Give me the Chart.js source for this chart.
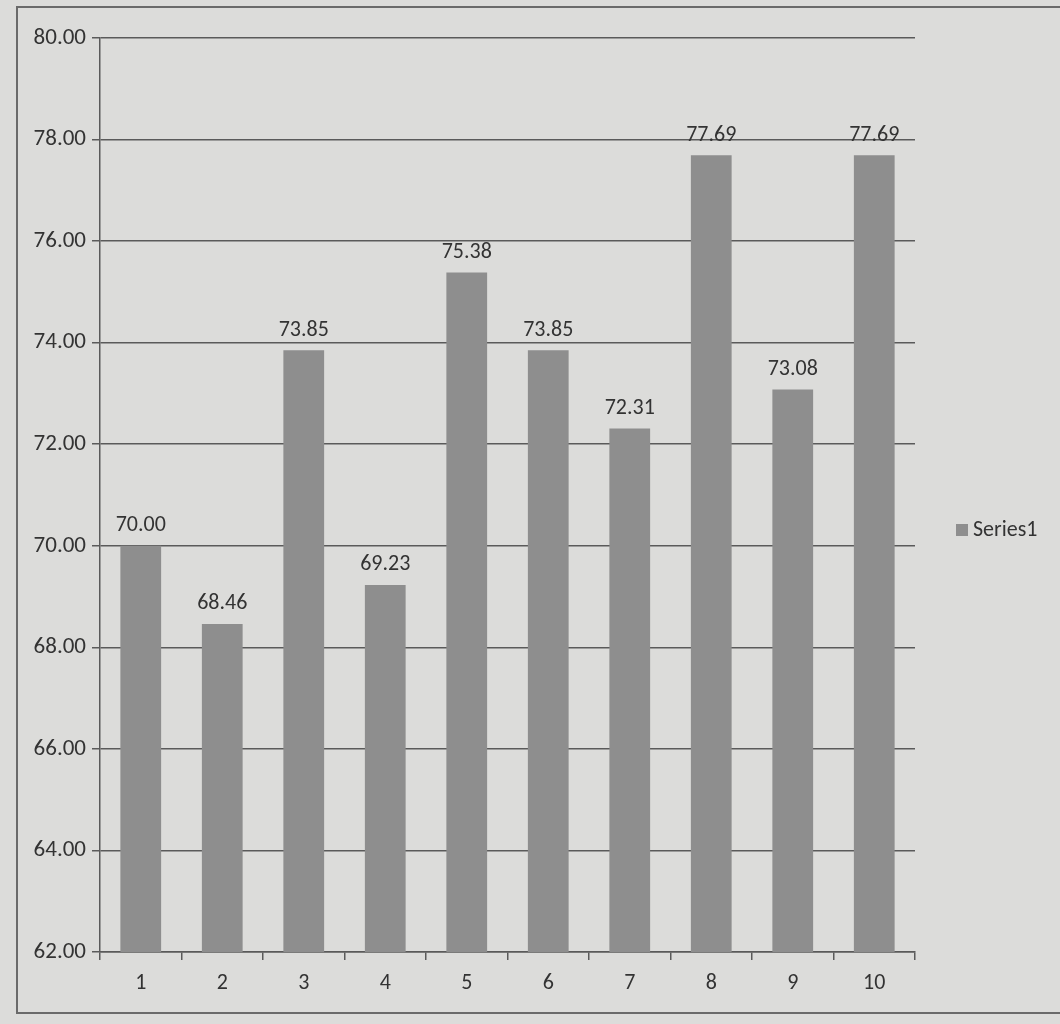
<!DOCTYPE html>
<html>
<head>
<meta charset="utf-8">
<script src="https://cdn.jsdelivr.net/npm/chart.js@4"></script>
<style>
  html, body { margin: 0; padding: 0; background: #dcdcda; }
  #wrap { position: relative; width: 1060px; height: 1024px; }
  #frame { position: absolute; left: 16px; top: 6px; width: 1060px; height: 1008px; border: 2px solid #6a6a6a; box-sizing: border-box; }
  #chart { position: absolute; left: 0; top: 0; }
  #legend { position: absolute; left: 956px; top: 515px; font-family: Calibri, Lato, "Liberation Sans", sans-serif; font-size: 22px; color: #333; }
  #legend span { display: inline-block; width: 12px; height: 12px; background: #8e8e8e; margin-right: 5px; }
</style>
</head>
<body>
<div id="wrap">
  <div id="frame"></div>
  <canvas id="chart" width="1060" height="1024"></canvas>
  <div id="legend"><span></span>Series1</div>
</div>
<script>
// Chart data
const categories = ["1", "2", "3", "4", "5", "6", "7", "8", "9", "10"];
const series1 = [70.00, 68.46, 73.85, 69.23, 75.38, 73.85, 72.31, 77.69, 73.08, 77.69];
const yMin = 62, yMax = 80, yStep = 2;

const ink = "#333333";
const lineColor = "#5a5a5a";
const fontFamily = "Calibri, Lato, 'Liberation Sans', sans-serif";

// Value labels above each bar
const valueLabels = {
  id: "valueLabels",
  afterDatasetsDraw(chart) {
    const ctx = chart.ctx;
    const meta = chart.getDatasetMeta(0);
    ctx.save();
    ctx.fillStyle = ink;
    ctx.font = "22px " + fontFamily;
    ctx.textAlign = "center";
    ctx.textBaseline = "bottom";
    meta.data.forEach((bar, i) => {
      ctx.fillText(series1[i].toFixed(2), bar.x, bar.y - 9);
    });
    ctx.restore();
  }
};

const ctx = document.getElementById("chart").getContext("2d");
new Chart(ctx, {
  type: "bar",
  data: {
    labels: categories,
    datasets: [{
      label: "Series1",
      data: series1,
      backgroundColor: "#8e8e8e",
      borderWidth: 0,
      barPercentage: 0.5,
      categoryPercentage: 1.0
    }]
  },
  options: {
    responsive: false,
    animation: false,
    layout: { padding: { top: 38, right: 145, bottom: 22, left: 0 } },
    plugins: {
      legend: { display: false },
      tooltip: { enabled: false }
    },
    scales: {
      x: {
        afterFit: s => { s.height = 50; },
        grid: { drawOnChartArea: false, drawTicks: true, tickLength: 8, color: lineColor, lineWidth: 1.5 },
        border: { color: lineColor, width: 1.5 },
        ticks: { color: ink, font: { size: 22, family: fontFamily }, padding: 10 }
      },
      y: {
        min: yMin,
        max: yMax,
        afterFit: s => { s.width = 100; },
        grid: { color: lineColor, lineWidth: 1.5, tickLength: 8 },
        border: { color: lineColor, width: 1.5 },
        ticks: {
          stepSize: yStep,
          color: ink,
          font: { size: 23, family: fontFamily },
          padding: 6,
          callback: v => v.toFixed(2)
        }
      }
    }
  },
  plugins: [valueLabels]
});
</script>
</body>
</html>
